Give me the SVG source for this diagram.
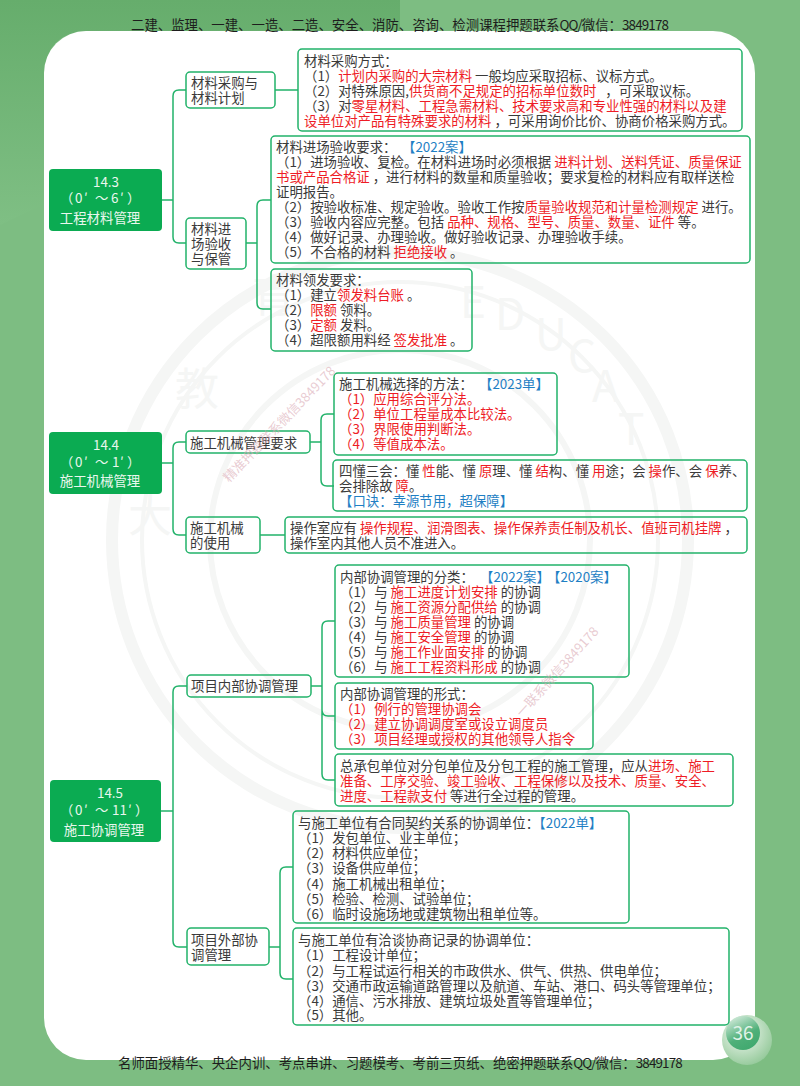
<svg xmlns="http://www.w3.org/2000/svg" width="800" height="1086" viewBox="0 0 800 1086">
<style>
text{font-family:"Noto Sans CJK SC","Noto Sans",sans-serif;font-size:13.4px;fill:#3a3a3a;white-space:pre}
.r{fill:#ee1c25}
.b{fill:#1f7fc4}
.h{fill:#1d1d1d}
.n{letter-spacing:-0.85px}
.box{fill:none;stroke:#22b26a;stroke-width:1.5}
.top{fill:#0bab52}
.w{fill:#eaf7ee;text-anchor:middle}
.s{fill:#eaf7ee}
.c{fill:none;stroke:#22b26a;stroke-width:1.5}
.wm{fill:#d9a9b4;fill-opacity:.6;font-size:13px}
.big{fill:#f5f6f5;font-size:44px}
.ring{fill:none;stroke:#f5f6f5}
</style>
<defs>
<radialGradient id="pg1" cx="0.4" cy="0.35" r="0.75"><stop offset="0" stop-color="#f4faf5"/><stop offset="1" stop-color="#8cc592"/></radialGradient>
<linearGradient id="pg2" x1="0.2" y1="0" x2="0.7" y2="1"><stop offset="0" stop-color="#d6ecdd"/><stop offset="0.6" stop-color="#4fb079"/><stop offset="1" stop-color="#3fa86e"/></linearGradient>
<linearGradient id="bgl" x1="0" y1="0" x2="0" y2="1"><stop offset="0" stop-color="#66ad6c"/><stop offset="1" stop-color="#7fbf84"/></linearGradient>
</defs>
<g id="background">
<rect width="800" height="1086" fill="#7dbd82"/>
<path d="M0 0H400V31H90Q44 31 44 80V205Q20 215 0 225Z" fill="url(#bgl)"/>
<rect x="44" y="31" width="711" height="1029" rx="42" fill="#fff"/>
<circle cx="400" cy="540" r="288" class="ring" stroke-width="12"/>
<circle cx="400" cy="540" r="258" class="ring" stroke-width="4"/>
<circle cx="400" cy="540" r="190" class="ring" stroke-width="6"/>
<text class="big" x="128" y="532">大</text>
<text class="big" x="175" y="405">教</text>
<text class="big" x="252" y="312">育</text>
<text class="big" x="460" y="318">E</text>
<text class="big" x="495" y="330">D</text>
<text class="big" x="535" y="350">U</text>
<text class="big" x="568" y="372">C</text>
<text class="big" x="592" y="402">A</text>
<text class="big" x="618" y="445">T</text>
<circle cx="747" cy="1040" r="25" fill="url(#pg1)"/>
<circle cx="743" cy="1033" r="17" fill="url(#pg2)"/>
<text x="743" y="1040" style="font-size:19px;fill:#e0f2e7;text-anchor:middle">36</text>
</g>
<g id="header"><text class="h" x="131" y="30">二建、监理、一建、一造、二造、安全、消防、咨询、检测课程押题联系<tspan class="n">QQ/</tspan>微信：<tspan class="n">3849178</tspan></text></g>
<g id="footer"><text class="h" x="118" y="1068">名师面授精华、央企内训、考点串讲、习题模考、考前三页纸、绝密押题联系<tspan class="n">QQ/</tspan>微信：<tspan class="n">3849178</tspan></text></g>
<g id="connectors">
<path class="c" d="M162 200H173M186 90H179Q173 90 173 96V237Q173 243 179 243H186M275 90H298M246 243H257M271 200H263Q257 200 257 206V303Q257 309 263 309H271"/>
<path class="c" d="M162 463H173M186 442H179Q173 442 173 448V529Q173 535 179 535H186M310 442H321M334 414H327Q321 414 321 420V480Q321 486 327 486H334M260 535H285"/>
<path class="c" d="M161 811H173M187 686H179Q173 686 173 692V941Q173 947 179 947H187M311 686H322M335 621H328Q322 621 322 627V774Q322 780 328 780H335M322 710Q322 716 328 716H335M269 947H280M293 867H286Q280 867 280 873V973Q280 979 286 979H293"/>
</g>
<g id="n143"><rect class="top" x="49" y="169" width="113" height="62" rx="4"/><text class="w" x="106" y="187">14.3</text><text class="s" x="60 75 84 95 111 120 127" y="203">（0′～6′）</text><text class="w" x="100" y="223">工程材料管理</text></g>
<g id="n144"><rect class="top" x="49" y="432" width="113" height="62" rx="4"/><text class="w" x="106" y="450">14.4</text><text class="s" x="60 75 84 95 112 120 127" y="467">（0′～1′）</text><text class="w" x="100" y="486">施工机械管理</text></g>
<g id="n145"><rect class="top" x="50" y="780" width="111" height="62" rx="4"/><text class="w" x="110" y="798">14.5</text><text class="s" x="60 75 84 95 112 119.5 128 135" y="815">（0′～11′）</text><text class="w" x="104" y="835">施工协调管理</text></g>
<g id="n-purchase"><rect class="box" x="186" y="72" width="89" height="36" rx="4"/><text x="191" y="88">材料采购与</text><text x="191" y="103">材料计划</text></g>
<g id="n-accept"><rect class="box" x="186" y="218" width="60" height="51" rx="4"/><text x="191" y="234">材料进</text><text x="191" y="249">场验收</text><text x="191" y="264">与保管</text></g>
<g id="n-mech"><rect class="box" x="186" y="431" width="124" height="22" rx="4"/><text x="190" y="448">施工机械管理要求</text></g>
<g id="n-use"><rect class="box" x="186" y="517" width="74" height="36" rx="4"/><text x="190" y="533">施工机械</text><text x="190" y="548">的使用</text></g>
<g id="n-inner"><rect class="box" x="187" y="675" width="124" height="22" rx="4"/><text x="191" y="691">项目内部协调管理</text></g>
<g id="n-outer"><rect class="box" x="187" y="928" width="82" height="37" rx="4"/><text x="191" y="945">项目外部协</text><text x="191" y="960">调管理</text></g>
<g id="box-a"><rect class="box" x="298" y="49" width="444" height="82" rx="4"/>
<text x="304" y="66">材料采购方式：</text>
<text x="304" y="81">（1）<tspan class="r">计划内采购的大宗材料</tspan> 一般均应采取招标、议标方式。</text>
<text x="304" y="96">（2）对特殊原因,<tspan class="r">供货商不足规定的招标单位数时</tspan>   ，可采取议标。</text>
<text x="304" y="111">（3）对<tspan class="r">零星材料、工程急需材料、技术要求高和专业性强的材料以及建</tspan></text>
<text x="304" y="126"><tspan class="r">设单位对产品有特殊要求的材料</tspan> ，可采用询价比价、协商价格采购方式。</text></g>
<g id="box-b"><rect class="box" x="271" y="136" width="479" height="127" rx="4"/>
<text x="276" y="152">材料进场验收要求：<tspan class="b" x="402">【2022案】</tspan></text>
<text x="276" y="167">（1）进场验收、复检。在材料进场时必须根据 <tspan class="r">进料计划、送料凭证、质量保证</tspan></text>
<text x="276" y="182"><tspan class="r">书或产品合格证</tspan> ，进行材料的数量和质量验收；要求复检的材料应有取样送检</text>
<text x="276" y="197">证明报告。</text>
<text x="276" y="212">（2）按验收标准、规定验收。验收工作按<tspan class="r">质量验收规范和计量检测规定</tspan> 进行。</text>
<text x="276" y="227">（3）验收内容应完整。包括 <tspan class="r">品种、规格、型号、质量、数量、证件</tspan> 等。</text>
<text x="276" y="242">（4）做好记录、办理验收。做好验收记录、办理验收手续。</text>
<text x="276" y="257">（5）不合格的材料 <tspan class="r">拒绝接收</tspan> 。</text></g>
<g id="box-c"><rect class="box" x="271" y="269" width="201" height="82" rx="4"/>
<text x="276" y="285">材料领发要求：</text>
<text x="276" y="300">（1）建立<tspan class="r">领发料台账</tspan> 。</text>
<text x="276" y="315">（2）<tspan class="r">限额</tspan> 领料。</text>
<text x="276" y="330">（3）<tspan class="r">定额</tspan> 发料。</text>
<text x="276" y="345">（4）超限额用料经 <tspan class="r">签发批准</tspan> 。</text></g>
<g id="box-d"><rect class="box" x="334" y="373" width="223" height="82" rx="4"/>
<text x="339" y="389">施工机械选择的方法：<tspan class="b" x="479">【2023单】</tspan></text>
<text class="r" x="339" y="404">（1）应用综合评分法。</text>
<text class="r" x="339" y="419">（2）单位工程量成本比较法。</text>
<text class="r" x="339" y="434">（3）界限使用判断法。</text>
<text class="r" x="339" y="449">（4）等值成本法。</text></g>
<g id="box-e"><rect class="box" x="333" y="460" width="414" height="51" rx="4"/>
<text x="339" y="476">四懂三会：懂 <tspan class="r">性</tspan>能、懂 <tspan class="r">原</tspan>理、懂 <tspan class="r">结</tspan>构、懂 <tspan class="r">用</tspan>途；会 <tspan class="r">操</tspan>作、会 <tspan class="r">保</tspan>养、</text>
<text x="339" y="491">会排除故 <tspan class="r">障</tspan>。</text>
<text class="b" x="339" y="506">【口诀：幸源节用，超保障】</text></g>
<g id="box-f"><rect class="box" x="285" y="517" width="462" height="36" rx="4"/>
<text x="290" y="533">操作室应有 <tspan class="r">操作规程、润滑图表、操作保养责任制及机长、值班司机挂牌</tspan> ，</text>
<text x="290" y="548">操作室内其他人员不准进入。</text></g>
<g id="box-g"><rect class="box" x="335" y="565" width="294" height="112" rx="4"/>
<text x="340" y="582">内部协调管理的分类：<tspan class="b" x="480">【2022案】</tspan><tspan class="b" x="547">【2020案】</tspan></text>
<text x="340" y="597">（1）与 <tspan class="r">施工进度计划安排</tspan> 的协调</text>
<text x="340" y="612">（2）与 <tspan class="r">施工资源分配供给</tspan> 的协调</text>
<text x="340" y="627">（3）与 <tspan class="r">施工质量管理</tspan> 的协调</text>
<text x="340" y="642">（4）与 <tspan class="r">施工安全管理</tspan> 的协调</text>
<text x="340" y="657">（5）与 <tspan class="r">施工作业面安排</tspan> 的协调</text>
<text x="340" y="672">（6）与 <tspan class="r">施工工程资料形成</tspan> 的协调</text></g>
<g id="box-h"><rect class="box" x="335" y="683" width="258" height="66" rx="4"/>
<text x="340" y="699">内部协调管理的形式：</text>
<text class="r" x="340" y="714">（1）例行的管理协调会</text>
<text class="r" x="340" y="729">（2）建立协调调度室或设立调度员</text>
<text class="r" x="340" y="744">（3）项目经理或授权的其他领导人指令</text></g>
<g id="box-i"><rect class="box" x="335" y="754" width="398" height="52" rx="4"/>
<text x="340" y="771">总承包单位对分包单位及分包工程的施工管理，应从<tspan class="r">进场、施工</tspan></text>
<text class="r" x="340" y="786">准备、工序交验、竣工验收、工程保修以及技术、质量、安全、</text>
<text x="340" y="801"><tspan class="r">进度、工程款支付</tspan> 等进行全过程的管理。</text></g>
<g id="box-j"><rect class="box" x="293" y="811" width="336" height="112" rx="4"/>
<text x="298" y="828">与施工单位有合同契约关系的协调单位：<tspan class="b">【2022单】</tspan></text>
<text x="298" y="843">（1）发包单位、业主单位；</text>
<text x="298" y="858">（2）材料供应单位；</text>
<text x="298" y="873">（3）设备供应单位；</text>
<text x="298" y="889">（4）施工机械出租单位；</text>
<text x="298" y="904">（5）检验、检测、试验单位；</text>
<text x="298" y="919">（6）临时设施场地或建筑物出租单位等。</text></g>
<g id="box-k"><rect class="box" x="293" y="928" width="436" height="97" rx="4"/>
<text x="298" y="945">与施工单位有洽谈协商记录的协调单位：</text>
<text x="298" y="960">（1）工程设计单位；</text>
<text x="298" y="976">（2）与工程试运行相关的市政供水、供气、供热、供电单位；</text>
<text x="298" y="991">（3）交通市政运输道路管理以及航道、车站、港口、码头等管理单位；</text>
<text x="298" y="1006">（4）通信、污水排放、建筑垃圾处置等管理单位；</text>
<text x="298" y="1020">（5）其他。</text></g>
<g id="watermarks">
<text class="wm" transform="translate(229 483) rotate(-46)">精准押题联系微信3849178</text>
<text class="wm" transform="translate(522 718) rotate(-48)">一联系微信3849178</text>
</g>
</svg>
